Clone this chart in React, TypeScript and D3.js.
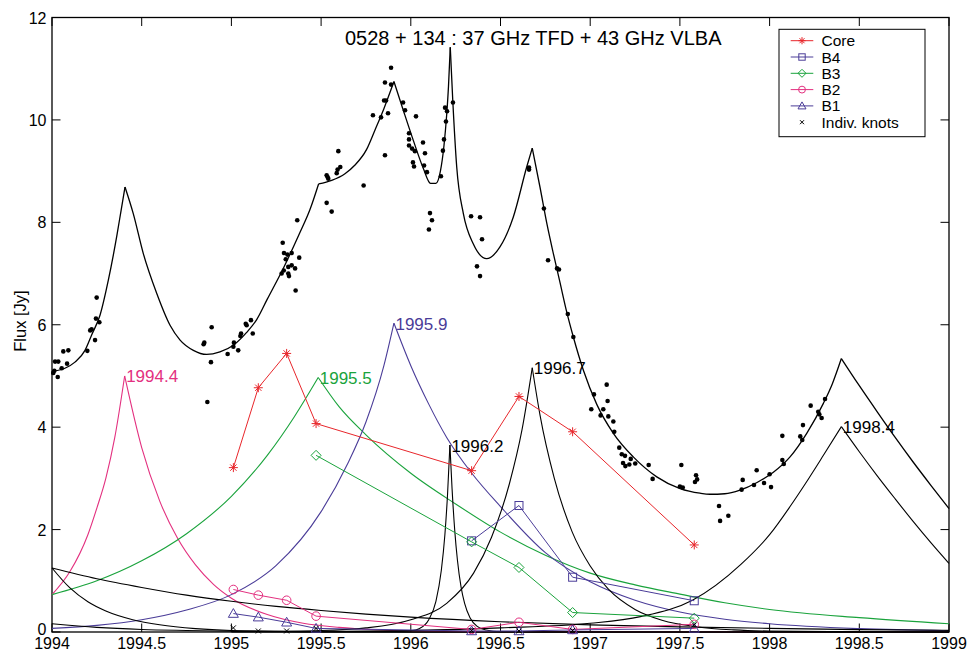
import React from "react";
import * as d3 from "d3";

type P = [number, number];

const xTicks = [1994, 1994.5, 1995, 1995.5, 1996, 1996.5, 1997, 1997.5, 1998, 1998.5, 1999];
const xTickLabels = ["1994", "1994.5", "1995", "1995.5", "1996", "1996.5", "1997", "1997.5", "1998", "1998.5", "1999"];
const yTicks = [0, 2, 4, 6, 8, 10, 12];

// 37 GHz single-dish flux
const obsFlux: P[] = [
  [1994.007, 5.06], [1994.013, 5.10], [1994.017, 5.28], [1994.032, 4.98], [1994.035, 5.28], [1994.054, 5.15],
  [1994.063, 5.48], [1994.084, 5.24], [1994.091, 5.50], [1994.197, 5.49], [1994.213, 5.89], [1994.221, 5.91],
  [1994.240, 5.70], [1994.245, 6.12], [1994.249, 6.53], [1994.264, 6.05],
  [1994.845, 5.62], [1994.849, 5.65], [1994.890, 5.95], [1994.886, 5.27], [1994.866, 4.49], [1994.979, 5.43],
  [1995.011, 5.57], [1995.014, 5.65], [1995.038, 5.50], [1995.050, 5.78], [1995.054, 5.83], [1995.080, 6.02],
  [1995.085, 5.99], [1995.109, 6.09], [1995.119, 5.83],
  [1995.367, 8.04], [1995.286, 7.60], [1995.293, 7.40], [1995.312, 7.37], [1995.336, 7.40], [1995.378, 7.31],
  [1995.303, 7.28], [1995.336, 7.16], [1995.317, 7.13], [1995.355, 7.10], [1995.292, 7.06], [1995.280, 7.00],
  [1995.317, 7.00], [1995.321, 6.95], [1995.358, 6.67],
  [1995.531, 8.92], [1995.537, 8.88], [1995.540, 8.85], [1995.531, 8.38], [1995.559, 8.21], [1995.587, 8.96],
  [1995.592, 9.03], [1995.607, 9.08], [1995.596, 9.39], [1995.737, 8.72],
  [1995.789, 10.09], [1995.834, 10.05], [1995.856, 10.73], [1995.890, 11.02], [1995.890, 10.69], [1995.851, 10.38],
  [1995.862, 10.38], [1995.873, 10.13], [1995.856, 9.31], [1995.957, 10.34], [1995.968, 10.19], [1996.029, 10.07],
  [1995.990, 9.74], [1995.990, 9.62], [1995.990, 9.50], [1996.007, 9.44], [1996.023, 9.39], [1996.012, 9.17],
  [1996.018, 9.09], [1996.068, 9.56], [1996.079, 9.35], [1996.074, 9.11], [1996.090, 8.98], [1996.107, 8.18],
  [1996.118, 8.04], [1996.101, 7.86], [1996.168, 8.90], [1996.179, 9.40], [1996.185, 9.62], [1996.196, 9.97],
  [1996.191, 10.24], [1996.202, 10.17], [1996.235, 10.34],
  [1996.336, 8.12], [1996.386, 8.10], [1996.397, 7.67], [1996.369, 7.14], [1996.386, 6.95],
  [1996.659, 9.07], [1996.659, 9.03], [1996.742, 8.27], [1996.765, 7.26], [1996.815, 7.10], [1996.826, 7.08],
  [1996.875, 6.21], [1996.906, 5.76],
  [1997.092, 4.83], [1997.021, 4.64], [1997.097, 4.51], [1997.006, 4.35], [1997.073, 4.35], [1997.058, 4.23],
  [1997.101, 4.21], [1997.129, 4.11], [1997.134, 3.91], [1997.162, 3.60], [1997.176, 3.47], [1997.194, 3.44],
  [1997.226, 3.38], [1997.183, 3.30], [1997.196, 3.24], [1997.218, 3.27], [1997.251, 3.29], [1997.326, 3.26],
  [1997.348, 2.99], [1997.508, 3.26], [1997.500, 2.84], [1997.516, 2.82], [1997.590, 3.06], [1997.596, 2.98],
  [1997.584, 2.93],
  [1997.718, 2.46], [1997.724, 2.17], [1997.770, 2.27], [1997.850, 2.97], [1997.844, 2.78], [1997.928, 3.16],
  [1997.913, 2.87], [1997.969, 2.91], [1998.000, 3.08], [1998.008, 2.83], [1998.071, 3.83], [1998.071, 3.36],
  [1998.079, 3.28], [1998.171, 3.82], [1998.182, 3.75], [1998.186, 4.04], [1998.229, 4.42], [1998.271, 4.30],
  [1998.277, 4.25], [1998.290, 4.18], [1998.309, 4.55],
];

// model: total light curve, split at the cusps
const totalSegments: P[][] = [
  [[1994.0, 5.09], [1994.072, 5.15], [1994.128, 5.27], [1994.184, 5.50], [1994.221, 5.80], [1994.268, 6.19],
   [1994.314, 6.87], [1994.361, 7.73], [1994.385, 8.23], [1994.407, 8.69]],
  [[1994.407, 8.69], [1994.453, 8.17], [1994.509, 7.39], [1994.584, 6.61], [1994.658, 5.99], [1994.714, 5.70],
   [1994.788, 5.50], [1994.862, 5.42], [1994.936, 5.47], [1995.011, 5.60], [1995.085, 5.85], [1995.141, 6.10],
   [1995.2, 6.50], [1995.289, 7.10], [1995.382, 7.80], [1995.438, 8.25], [1995.486, 8.75]],
  [[1995.486, 8.75], [1995.559, 8.82], [1995.633, 8.95], [1995.689, 9.12], [1995.753, 9.42], [1995.80, 9.80],
   [1995.85, 10.22], [1995.906, 10.75]],
  [[1995.906, 10.75], [1995.958, 10.19], [1996.014, 9.60], [1996.070, 9.05], [1996.11, 8.76], [1996.14, 8.76],
   [1996.165, 9.0], [1996.185, 9.5], [1996.2, 10.1], [1996.21, 10.65], [1996.22, 11.42]],
  [[1996.22, 11.42], [1996.234, 10.38], [1996.256, 9.08], [1996.293, 8.17], [1996.348, 7.58], [1996.423, 7.29],
   [1996.497, 7.52], [1996.571, 8.10], [1996.646, 9.08], [1996.677, 9.45]],
  [[1996.677, 9.45], [1996.720, 8.69], [1996.76, 7.95], [1996.794, 7.40], [1996.83, 6.85], [1996.869, 6.25],
   [1996.906, 5.76], [1996.962, 5.11], [1997.036, 4.45], [1997.129, 3.88], [1997.240, 3.42], [1997.371, 3.03],
   [1997.501, 2.80], [1997.612, 2.71], [1997.668, 2.69], [1997.75, 2.70], [1997.835, 2.77], [1997.93, 2.92],
   [1998.021, 3.12], [1998.114, 3.42], [1998.207, 3.88], [1998.299, 4.46], [1998.35, 4.85], [1998.40, 5.34]],
  [[1998.4, 5.34], [1998.5, 4.81], [1998.6, 4.30], [1998.7, 3.80], [1998.8, 3.32], [1998.9, 2.86], [1999.0, 2.41]],
];

// model: single flares (rise, decay)
const flare19944: P[][] = [
  [[1994.0, 0.73], [1994.1, 1.18], [1994.2, 1.90], [1994.25, 2.42], [1994.3, 3.0], [1994.35, 3.8], [1994.405, 5.0]],
  [[1994.405, 5.0], [1994.5, 3.6], [1994.6, 2.56], [1994.7, 1.83], [1994.8, 1.31], [1994.9, 0.93], [1995.0, 0.66],
   [1995.2, 0.34], [1995.4, 0.17], [1995.6, 0.09], [1995.8, 0.045], [1996.0, 0.022], [1996.5, 0.004], [1999.0, 0.0]],
];
const flare19955: P[][] = [
  [[1994.0, 0.73], [1994.25, 1.0], [1994.5, 1.39], [1994.75, 1.92], [1995.0, 2.65], [1995.2, 3.45], [1995.35, 4.2],
   [1995.484, 4.97]],
  [[1995.484, 4.97], [1995.6, 4.4], [1995.75, 3.85], [1996.0, 3.1], [1996.25, 2.5], [1996.5, 1.95], [1996.75, 1.5],
   [1997.0, 1.15], [1997.25, 0.92], [1997.5, 0.74], [1997.75, 0.57], [1998.0, 0.44], [1998.5, 0.28], [1999.0, 0.16]],
];
const flare19959: P[][] = [
  [[1994.0, 0.07], [1994.25, 0.13], [1994.5, 0.24], [1994.75, 0.43], [1995.0, 0.73], [1995.25, 1.30], [1995.5, 2.35],
   [1995.65, 3.30], [1995.75, 4.10], [1995.85, 5.20], [1995.906, 6.03]],
  [[1995.906, 6.03], [1996.0, 5.2], [1996.1, 4.45], [1996.2, 3.8], [1996.34, 3.1], [1996.5, 2.45], [1996.75, 1.55],
   [1997.0, 0.98], [1997.25, 0.62], [1997.5, 0.39], [1997.75, 0.25], [1998.0, 0.16], [1998.5, 0.065], [1999.0, 0.025]],
];
const flare19962: P[][] = [
  [[1995.0, 0.0], [1995.5, 0.002], [1995.9, 0.01], [1996.0, 0.023], [1996.05, 0.07], [1996.1, 0.24], [1996.14, 0.6],
   [1996.17, 1.2], [1996.19, 1.9], [1996.205, 2.7], [1996.218, 3.65]],
  [[1996.218, 3.65], [1996.23, 2.8], [1996.245, 1.98], [1996.26, 1.4], [1996.28, 0.88], [1996.3, 0.56], [1996.33, 0.28],
   [1996.37, 0.11], [1996.42, 0.04], [1996.5, 0.006], [1996.7, 0.0], [1999.0, 0.0]],
];
const flare19967: P[][] = [
  [[1995.0, 0.01], [1995.5, 0.03], [1995.75, 0.08], [1996.0, 0.24], [1996.2, 0.56], [1996.35, 1.15], [1996.45, 1.85],
   [1996.55, 2.9], [1996.62, 3.95], [1996.677, 5.16]],
  [[1996.677, 5.16], [1996.72, 4.24], [1996.8, 3.0], [1996.9, 1.95], [1997.0, 1.29], [1997.1, 0.84], [1997.25, 0.44],
   [1997.4, 0.23], [1997.6, 0.099], [1997.8, 0.042], [1998.0, 0.018], [1998.5, 0.002], [1999.0, 0.0]],
];
const flare19984: P[][] = [
  [[1995.5, 0.01], [1996.0, 0.03], [1996.5, 0.08], [1997.0, 0.17], [1997.28, 0.30], [1997.57, 0.62], [1997.84, 1.32],
   [1998.0, 1.90], [1998.114, 2.45], [1998.2, 2.90], [1998.3, 3.45], [1998.4, 4.01]],
  [[1998.4, 4.01], [1998.5, 3.52], [1998.6, 3.05], [1998.7, 2.60], [1998.8, 2.16], [1998.9, 1.74], [1999.0, 1.34]],
];
// earlier flares, already decaying in 1994
const decayA: P[] = [
  [1994.0, 1.25], [1994.25, 1.04], [1994.5, 0.87], [1994.75, 0.72], [1995.0, 0.60], [1995.25, 0.50], [1995.5, 0.42],
  [1995.75, 0.35], [1996.0, 0.29], [1996.5, 0.20], [1997.0, 0.14], [1997.5, 0.10], [1998.0, 0.07], [1998.5, 0.046],
  [1999.0, 0.032],
];
const decayB: P[] = [
  [1994.0, 1.25], [1994.1, 0.86], [1994.2, 0.59], [1994.3, 0.41], [1994.45, 0.24], [1994.6, 0.14], [1994.8, 0.065],
  [1995.0, 0.03], [1995.5, 0.005], [1996.0, 0.001], [1999.0, 0.0],
];
const decayC: P[] = [
  [1994.0, 0.16], [1994.25, 0.09], [1994.5, 0.05], [1994.75, 0.03], [1995.0, 0.015], [1995.5, 0.004], [1996.0, 0.001],
  [1999.0, 0.0],
];

// 43 GHz VLBA components
const coreX = [1995.011, 1995.150, 1995.308, 1995.472, 1996.339, 1996.603, 1996.902, 1997.580];
const coreY = [3.21, 4.77, 5.44, 4.07, 3.15, 4.60, 3.91, 1.70];
const b4X = [1996.339, 1996.603, 1996.902, 1997.580];
const b4Y = [1.78, 2.47, 1.07, 0.61];
const b3X = [1995.472, 1996.339, 1996.603, 1996.902, 1997.580];
const b3Y = [3.45, 1.76, 1.26, 0.38, 0.27];
const b2X = [1995.011, 1995.150, 1995.308, 1995.472, 1996.339, 1996.603, 1996.902, 1997.580];
const b2Y = [0.83, 0.72, 0.62, 0.31, 0.05, 0.19, 0.05, 0.15];
const b1X = [1995.011, 1995.150, 1995.308, 1995.472, 1996.339, 1996.603, 1996.902, 1997.580];
const b1Y = [0.36, 0.29, 0.19, 0.07, 0.02, 0.02, 0.04, 0.07];
const knotX = [1995.011, 1995.150, 1995.308, 1995.472, 1996.339, 1996.603, 1996.902, 1997.580];
const knotY = [0.08, 0.02, 0.02, 0.07, 0.03, 0.02, 0.03, 0.14];

const RED = "#e8262b";
const PURPLE = "#4a3c98";
const GREEN = "#1aa33c";
const PINK = "#e3307f";

const flareLabels = [
  { text: "1994.4", t: 1994.405, f: 5.0, color: PINK },
  { text: "1995.5", t: 1995.484, f: 4.97, color: GREEN },
  { text: "1995.9", t: 1995.906, f: 6.03, color: PURPLE },
  { text: "1996.2", t: 1996.218, f: 3.65, color: "#000" },
  { text: "1996.7", t: 1996.677, f: 5.16, color: "#000" },
  { text: "1998.4", t: 1998.4, f: 4.01, color: "#000" },
];

const FONT = "'Liberation Sans', Arial, Helvetica, sans-serif";

function Marker({ kind, cx, cy, color, s = 1 }: { kind: string; cx: number; cy: number; color: string; s?: number }) {
  const st = { fill: "none", stroke: color, strokeWidth: 1 };
  if (kind === "star") {
    const r = 4.5 * s, d = r * 0.7;
    return (
      <path {...st} d={`M${cx - r},${cy}H${cx + r}M${cx},${cy - r}V${cy + r}M${cx - d},${cy - d}L${cx + d},${cy + d}M${cx - d},${cy + d}L${cx + d},${cy - d}`} />
    );
  }
  if (kind === "square") {
    const h = 4 * s;
    return <rect {...st} x={cx - h} y={cy - h} width={2 * h} height={2 * h} />;
  }
  if (kind === "diamond") {
    const h = 5 * s;
    return <path {...st} d={`M${cx},${cy - h}L${cx + h},${cy}L${cx},${cy + h}L${cx - h},${cy}Z`} />;
  }
  if (kind === "circle") {
    return <circle {...st} cx={cx} cy={cy} r={4.3 * s} />;
  }
  if (kind === "triangle") {
    const h = 5 * s;
    return <path {...st} d={`M${cx},${cy - h}L${cx + h},${cy + h * 0.75}L${cx - h},${cy + h * 0.75}Z`} />;
  }
  const h = 2.5 * s;
  return <path {...st} d={`M${cx - h},${cy - h}L${cx + h},${cy + h}M${cx - h},${cy + h}L${cx + h},${cy - h}`} />;
}

export default function App() {
  const x = d3.scaleLinear().domain([1994, 1999]).range([52, 949]);
  const y = d3.scaleLinear().domain([0, 12]).range([632, 17.5]);
  const smooth = d3.line<P>().x(d => x(d[0])).y(d => y(d[1])).curve(d3.curveMonotoneX);
  const poly = d3.line<P>().x(d => x(d[0])).y(d => y(d[1]));
  const zip = (xs: number[], ys: number[]): P[] => xs.map((v, i) => [v, ys[i]]);

  const [x0, x1] = x.range();
  const [yb, yt] = y.range();
  const tick = 8.5;

  const flareCurves = [
    { segs: flare19944, color: PINK },
    { segs: flare19955, color: GREEN },
    { segs: flare19959, color: PURPLE },
    { segs: flare19962, color: "#000" },
    { segs: flare19967, color: "#000" },
    { segs: flare19984, color: "#000" },
    { segs: [decayA], color: "#000" },
    { segs: [decayB], color: "#000" },
    { segs: [decayC], color: "#000" },
  ];

  const components = [
    { name: "Core", kind: "star", color: RED, pts: zip(coreX, coreY), line: true },
    { name: "B4", kind: "square", color: PURPLE, pts: zip(b4X, b4Y), line: true },
    { name: "B3", kind: "diamond", color: GREEN, pts: zip(b3X, b3Y), line: true },
    { name: "B2", kind: "circle", color: PINK, pts: zip(b2X, b2Y), line: true },
    { name: "B1", kind: "triangle", color: PURPLE, pts: zip(b1X, b1Y), line: true },
    { name: "Indiv. knots", kind: "x", color: "#000", pts: zip(knotX, knotY), line: false },
  ];

  return (
    <svg width={975} height={652} style={{ position: "absolute", left: 0, top: 0, background: "#fff" }} fontFamily={FONT}>
      <rect x={0} y={0} width={975} height={652} fill="#fff" />

      {/* frame and ticks */}
      <rect x={x0} y={yt} width={x1 - x0} height={yb - yt} fill="none" stroke="#000" strokeWidth={1.3} />
      {xTicks.map(t => (
        <g key={"xt" + t}>
          <line x1={x(t)} x2={x(t)} y1={yb} y2={yb - tick} stroke="#000" strokeWidth={1} />
          <line x1={x(t)} x2={x(t)} y1={yt} y2={yt + tick} stroke="#000" strokeWidth={1} />
        </g>
      ))}
      {yTicks.map(t => (
        <g key={"yt" + t}>
          <line x1={x0} x2={x0 + tick} y1={y(t)} y2={y(t)} stroke="#000" strokeWidth={1} />
          <line x1={x1} x2={x1 - tick} y1={y(t)} y2={y(t)} stroke="#000" strokeWidth={1} />
        </g>
      ))}
      {xTicks.map((t, i) => (
        <text key={"xl" + t} x={x(t)} y={648.5} fontSize={16} textAnchor="middle">{xTickLabels[i]}</text>
      ))}
      {yTicks.map(t => (
        <text key={"yl" + t} x={46.5} y={y(t) + (t === 0 ? 3 : 6)} fontSize={16} textAnchor="end">{t}</text>
      ))}
      <text transform="translate(26,321) rotate(-90)" fontSize={16.5} textAnchor="middle" fill="#000">Flux [Jy]</text>

      {/* model curves */}
      {flareCurves.map((c, i) =>
        c.segs.map((s, j) => (
          <path key={`f${i}-${j}`} d={smooth(s) || ""} fill="none" stroke={c.color} strokeWidth={1.1} />
        ))
      )}
      {totalSegments.map((s, j) => (
        <path key={"tot" + j} d={smooth(s) || ""} fill="none" stroke="#000" strokeWidth={1.3} />
      ))}

      {/* VLBA components */}
      {components.filter(c => c.line).map(c => (
        <path key={"cl" + c.name} d={poly(c.pts) || ""} fill="none" stroke={c.color} strokeWidth={1} />
      ))}
      {components.map(c =>
        c.pts.map((p, i) => (
          <Marker key={c.name + i} kind={c.kind} cx={x(p[0])} cy={y(p[1])} color={c.color} />
        ))
      )}

      {/* single dish data */}
      {obsFlux.map((d, i) => (
        <circle key={"o" + i} cx={x(d[0])} cy={y(d[1])} r={2.3} fill="#000" />
      ))}

      {flareLabels.map(l => (
        <text key={l.text} x={x(l.t) + 1.5} y={y(l.f) + 6.5} fontSize={17} fill={l.color}>{l.text}</text>
      ))}

      <text x={345} y={45} fontSize={20}>0528 + 134 : 37 GHz TFD + 43 GHz VLBA</text>

      {/* legend */}
      <g>
        <rect x={779} y={29.3} width={146} height={107.4} fill="#fff" stroke="#000" strokeWidth={1} />
        {components.map((c, i) => {
          const ry = 40.7 + i * 16.3;
          return (
            <g key={"lg" + c.name}>
              {c.line && <line x1={790.7} x2={813.3} y1={ry} y2={ry} stroke={c.color} strokeWidth={1} />}
              <Marker kind={c.kind} cx={802} cy={ry} color={c.color} s={0.8} />
              <text x={821.5} y={ry + 5.5} fontSize={15.5}>{c.name}</text>
            </g>
          );
        })}
      </g>
    </svg>
  );
}
